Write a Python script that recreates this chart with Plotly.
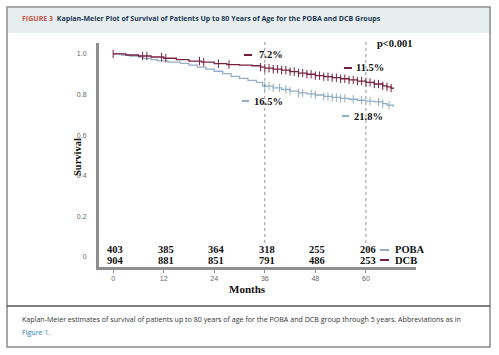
import plotly.graph_objects as go
import numpy as np

# ---- data ----
dcb_t = [0, 3, 6, 9, 12, 15, 18, 21, 24, 27, 30, 33, 35, 36, 38, 40, 42, 44, 46, 48, 50, 52, 54, 56, 58, 60, 62, 64, 65, 66, 66.5]
dcb_s = [1.0, 0.995, 0.99, 0.985, 0.979, 0.972, 0.965, 0.96, 0.952, 0.948, 0.945, 0.942, 0.935, 0.93, 0.925, 0.92, 0.913, 0.906, 0.9, 0.893, 0.888, 0.883, 0.878, 0.872, 0.866, 0.86, 0.852, 0.843, 0.838, 0.832, 0.828]
poba_t = [0, 2, 4, 6, 7, 9, 10.5, 13, 16, 18, 20, 22, 24, 26, 28, 30, 32, 34, 35.5, 38, 40, 42, 44, 46, 48, 50, 52, 54, 56, 58, 60, 62, 64, 65, 66.5]
poba_s = [1.0, 0.995, 0.99, 0.984, 0.978, 0.972, 0.966, 0.96, 0.954, 0.945, 0.935, 0.925, 0.915, 0.903, 0.89, 0.88, 0.87, 0.86, 0.842, 0.833, 0.825, 0.817, 0.808, 0.803, 0.798, 0.791, 0.786, 0.781, 0.777, 0.772, 0.768, 0.764, 0.755, 0.748, 0.74]
dcb_censor = [0, 7, 8, 11.5, 12.5, 20.5, 21.5, 25, 27.5, 35, 36, 37, 38, 39, 40, 41, 42, 43, 44, 45, 46, 47, 48, 49, 50, 51, 52, 53, 54, 55, 56, 57, 58, 59, 60, 61, 62, 63, 64, 65, 66]
poba_censor = [36, 37, 38, 39.5, 41, 42, 44, 45, 47, 48, 50, 51, 52, 53, 54, 55, 57, 59, 61, 63, 64, 65.5]

risk_months = [0, 12, 24, 36, 48, 60]
risk_poba = [403, 385, 364, 318, 255, 206]
risk_dcb = [904, 881, 851, 791, 486, 253]

x_ticks = [0, 12, 24, 36, 48, 60]
y_ticks = [0, 0.2, 0.4, 0.6, 0.8, 1.0]
y_ticktext = ["0", "0.2", "0.4", "0.6", "0.8", "1.0"]

DCB_C = "#7a2140"
POBA_C = "#93aec6"
AX_C = "#8f8f8f"

def step_at(ts, ss, t):
    idx = np.searchsorted(np.array(ts), t, side="right") - 1
    return ss[max(idx, 0)]

W, H = 499, 355
def px(x):
    return x / W
def py(y):
    return 1 - y / H

X_DOM = [px(98), px(416)]
Y_DOM = [py(268), py(43)]

fig = go.Figure()
fig.add_trace(go.Scatter(x=poba_t, y=poba_s, mode="lines", line=dict(color=POBA_C, width=1.3, shape="hv"), showlegend=False))
fig.add_trace(go.Scatter(x=dcb_t, y=dcb_s, mode="lines", line=dict(color=DCB_C, width=1.3, shape="hv"), showlegend=False))
fig.add_trace(go.Scatter(x=poba_censor, y=[step_at(poba_t, poba_s, t) for t in poba_censor], mode="markers",
                         marker=dict(symbol="line-ns", size=6, line=dict(color=POBA_C, width=1)), showlegend=False))
fig.add_trace(go.Scatter(x=dcb_censor, y=[step_at(dcb_t, dcb_s, t) for t in dcb_censor], mode="markers",
                         marker=dict(symbol="line-ns", size=6, line=dict(color=DCB_C, width=1)), showlegend=False))

fig.update_layout(
    width=W, height=H, margin=dict(l=0, r=0, t=0, b=0, autoexpand=False),
    paper_bgcolor="white", plot_bgcolor="white",
    xaxis=dict(domain=X_DOM, range=[-3.6, 71.9], tickvals=x_ticks, ticktext=[str(v) for v in x_ticks],
               showgrid=False, zeroline=False, showline=True, linecolor=AX_C, linewidth=2, automargin=False,
               ticks="outside", ticklen=3, tickwidth=1, tickcolor=AX_C, tickfont=dict(size=7, color="#666", family="Liberation Sans")),
    yaxis=dict(domain=Y_DOM, range=[-0.054, 1.054], tickvals=y_ticks, ticktext=y_ticktext, automargin=False,
               showgrid=False, zeroline=False, showline=True, linecolor=AX_C, linewidth=2,
               ticks="", ticklabelstandoff=8, tickfont=dict(size=7, color="#666", family="Liberation Sans")),
)

shapes = []
# title band
shapes.append(dict(type="rect", xref="paper", yref="paper", x0=px(8), x1=px(489), y0=py(33), y1=py(8),
                   fillcolor="#e6efed", line=dict(width=0)))
# outer frame
shapes.append(dict(type="rect", xref="paper", yref="paper", x0=px(7), x1=px(490), y0=py(347), y1=py(7),
                   line=dict(color="#8a8a8a", width=1.5)))
# caption separator
shapes.append(dict(type="line", xref="paper", yref="paper", x0=px(7), x1=px(490), y0=py(306), y1=py(306),
                   line=dict(color="#555", width=1.5)))
# axis lines (also drawn as shapes)
shapes.append(dict(type="line", xref="paper", yref="paper", x0=X_DOM[0], x1=X_DOM[0], y0=Y_DOM[0], y1=Y_DOM[1],
                   line=dict(color=AX_C, width=2)))
shapes.append(dict(type="line", xref="paper", yref="paper", x0=X_DOM[0], x1=X_DOM[1], y0=Y_DOM[0], y1=Y_DOM[0],
                   line=dict(color=AX_C, width=2)))
# dotted lines at 36 and 60
for m in [36, 60]:
    shapes.append(dict(type="line", xref="x", yref="paper", x0=m, x1=m, y0=py(243), y1=py(40),
                       line=dict(color="#777", width=0.8, dash="dot")))
# legend dashes
shapes.append(dict(type="line", xref="paper", yref="paper", x0=px(380), x1=px(389), y0=py(250), y1=py(250),
                   line=dict(color=POBA_C, width=2)))
shapes.append(dict(type="line", xref="paper", yref="paper", x0=px(380), x1=px(389), y0=py(260), y1=py(260),
                   line=dict(color=DCB_C, width=2)))
# percentage dashes
for x0, x1, y, c in [(244, 252, 55, DCB_C), (242, 249, 101, POBA_C), (344, 352, 68, DCB_C), (342, 349, 116, POBA_C)]:
    shapes.append(dict(type="line", xref="paper", yref="paper", x0=px(x0), x1=px(x1), y0=py(y), y1=py(y),
                       line=dict(color=c, width=2)))
fig.update_layout(shapes=shapes)

SERIF = "Liberation Serif"
ann = []
def text(x, y, t, size=10, color="#111", xanchor="left", family=SERIF, bold=True, xref="paper"):
    ann.append(dict(x=x, y=py(y), xref=xref, yref="paper", text=(f"<b>{t}</b>" if bold else t), showarrow=False,
                    xanchor=xanchor, yanchor="middle", font=dict(size=size, color=color, family=family)))

# title
ann.append(dict(x=px(20), y=py(18), xref="paper", yref="paper", showarrow=False, xanchor="left", yanchor="middle",
                text="<b><span style='color:#c9574f'>FIGURE 3</span>  Kaplan-Meier Plot of Survival of Patients Up to 80 Years of Age for the POBA and DCB Groups</b>",
                font=dict(size=7.05, color="#1f3556", family="Open Sans")))
# caption
text(px(20), 319, "Kaplan-Meier estimates of survival of patients up to 80 years of age for the POBA and DCB group through 5 years. Abbreviations as in",
     size=7.1, color="#333", family="Open Sans", bold=False)
text(px(20), 332, "Figure 1.", size=7.1, color="#1f7fb8", family="Open Sans", bold=False)

# axis titles
text(px(247), 289, "Months", size=11, xanchor="center")
ann.append(dict(x=px(77), y=py(157), xref="paper", yref="paper", text="<b>Survival</b>", showarrow=False, textangle=-90,
                xanchor="center", yanchor="middle", font=dict(size=10.5, color="#111", family=SERIF)))

# at-risk numbers
for m, a, b in zip(risk_months, risk_poba, risk_dcb):
    text(m + 0.5, 250, str(a), size=10.5, xanchor="center", xref="x")
    text(m + 0.5, 260, str(b), size=10.5, xanchor="center", xref="x")
text(px(393), 249.5, "POBA", size=10.5)
text(px(393), 260, "DCB", size=10.5)

# percentages
text(px(257), 54, "7.2%", size=10.5)
text(px(252), 101, "16.5%", size=10.5)
text(px(354), 67.5, "11.5%", size=10.5)
text(px(352), 116, "21.8%", size=10.5)
text(px(375), 43, "p&lt;0.001", size=10.5)

fig.update_layout(annotations=ann)
fig.write_html("out.html", config={"displayModeBar": False},
               post_script="document.body.style.margin='0';document.body.style.padding='0';document.documentElement.style.overflow='hidden';")
